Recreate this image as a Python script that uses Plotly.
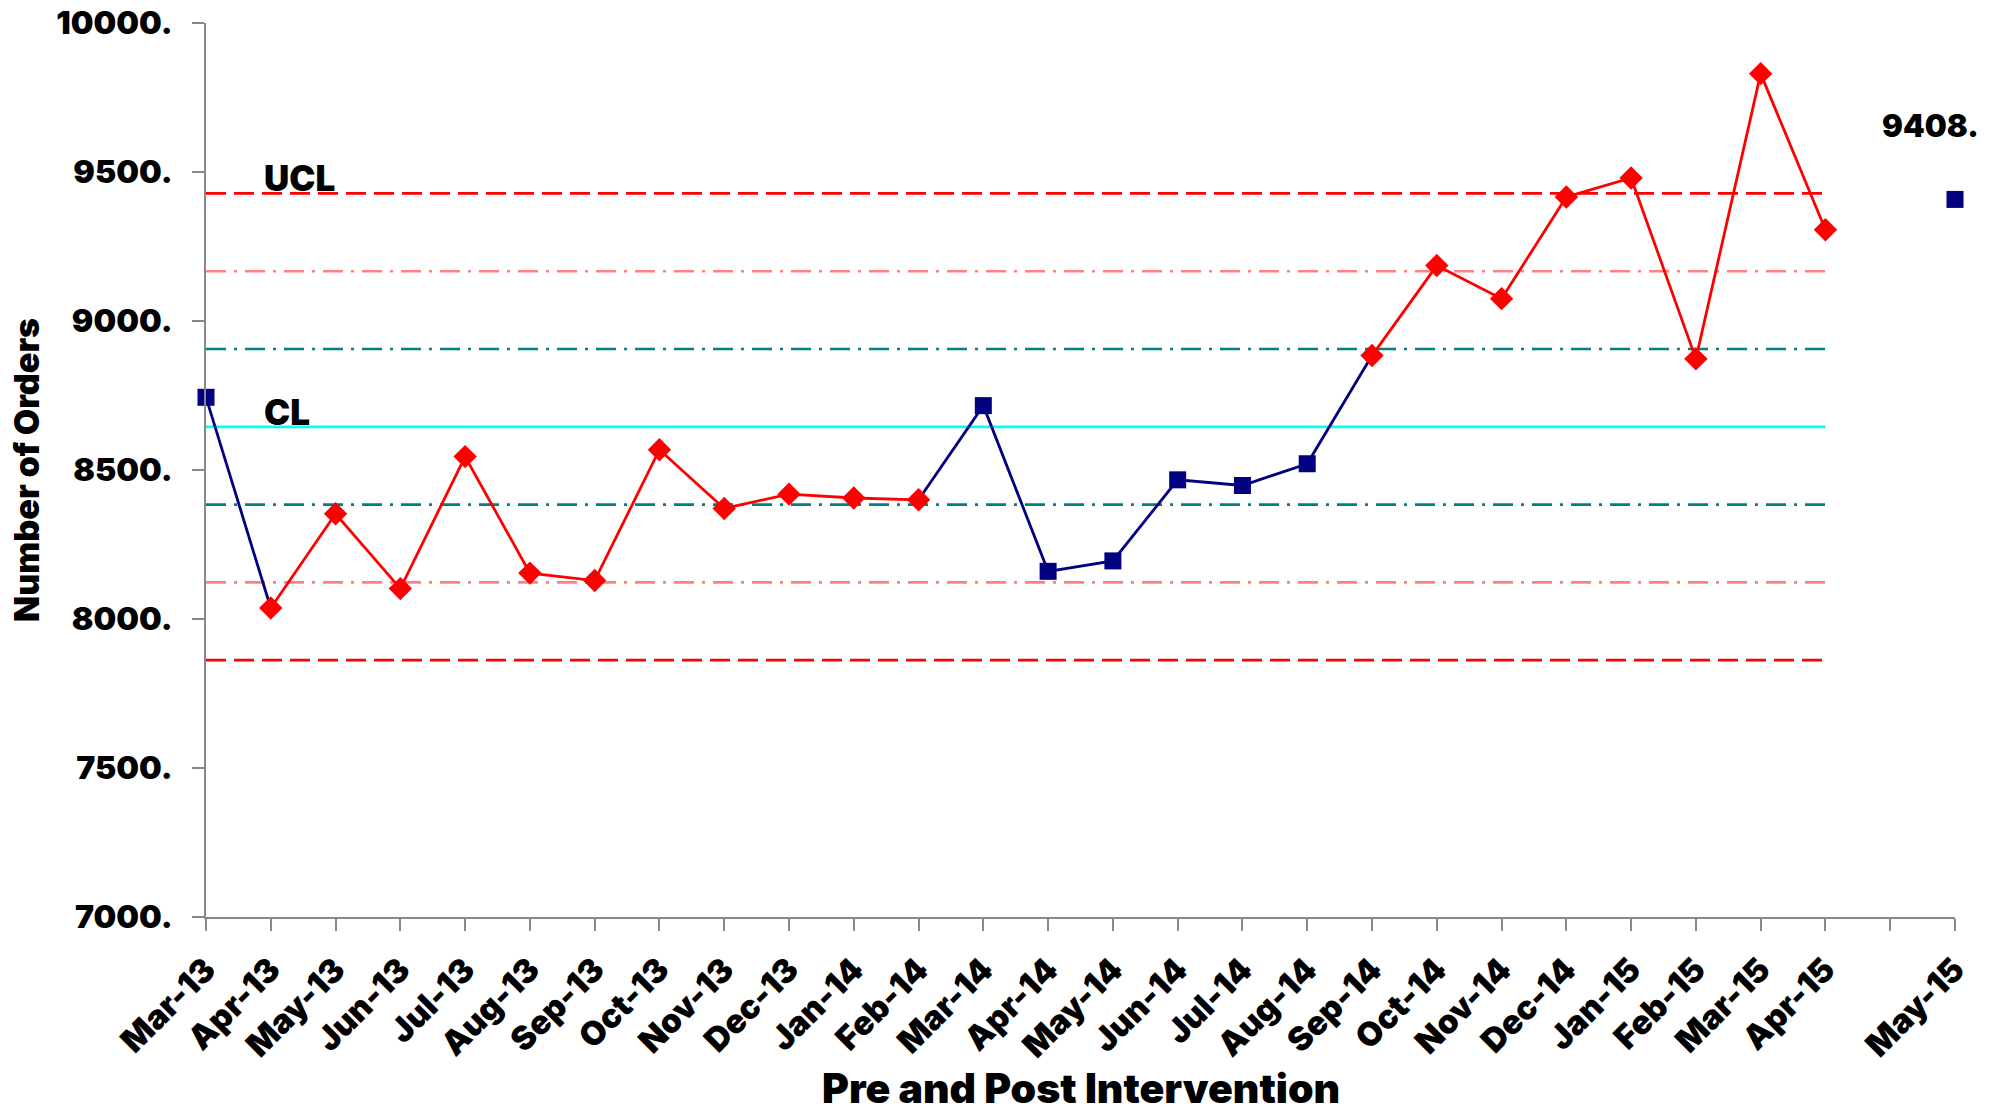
import plotly.graph_objects as go

# ---------------- data ----------------
months = ['Mar-13', 'Apr-13', 'May-13', 'Jun-13', 'Jul-13', 'Aug-13', 'Sep-13',
          'Oct-13', 'Nov-13', 'Dec-13', 'Jan-14', 'Feb-14', 'Mar-14', 'Apr-14',
          'May-14', 'Jun-14', 'Jul-14', 'Aug-14', 'Sep-14', 'Oct-14', 'Nov-14',
          'Dec-14', 'Jan-15', 'Feb-15', 'Mar-15', 'Apr-15', '', 'May-15']
orders = [8744, 8037, 8353, 8102, 8545, 8154, 8129,
          8568, 8371, 8419, 8406, 8400, 8716, 8160,
          8195, 8467, 8448, 8521, 8884, 9186, 9075,
          9416, 9480, 8873, 9830, 9306, None, 9408]
# 'N' = navy square point, 'R' = red diamond point, '' = empty slot
point_type = ['N', 'R', 'R', 'R', 'R', 'R', 'R',
              'R', 'R', 'R', 'R', 'R', 'N', 'N',
              'N', 'N', 'N', 'N', 'R', 'R', 'R',
              'R', 'R', 'R', 'R', 'R', '', 'N']
labelled_month = 'May-15'

cl_value = 8645
sigma = 261
limit_lines = [
    ('UCL', cl_value + 3 * sigma, '#FF0000', '20px,8px'),
    ('+2s', cl_value + 2 * sigma, '#FF8080', '20px,8px,3px,8px'),
    ('+1s', cl_value + 1 * sigma, '#008080', '20px,8px,3px,8px'),
    ('CL', cl_value, '#00FFFF', 'solid'),
    ('-1s', cl_value - 1 * sigma, '#008080', '20px,8px,3px,8px'),
    ('-2s', cl_value - 2 * sigma, '#FF8080', '20px,8px,3px,8px'),
    ('LCL', cl_value - 3 * sigma, '#FF0000', '20px,8px'),
]
line_labels = ['UCL', 'CL']
limit_end_month = 'Apr-15'

y_tickvals = [7000, 7500, 8000, 8500, 9000, 9500, 10000]
y_ticktext = ['7000.', '7500.', '8000.', '8500.', '9000.', '9500.', '10000.']

x_title = 'Pre and Post Intervention'
y_title = 'Number of Orders'

# ---------------- build ----------------
idx = list(range(len(months)))
NAVY = '#000080'
RED = '#FF0000'
FONT = 'Inter'
W = 900

fig = go.Figure()

end_i = months.index(limit_end_month)
limit_x = idx[:end_i + 1]
for name, val, col, dash in limit_lines:
    fig.add_trace(go.Scatter(x=limit_x, y=[val] * len(limit_x), mode='lines',
                             line=dict(color=col, width=2.7, dash=dash),
                             hoverinfo='skip', showlegend=False))

# red connecting line (between red points)
red_y = [v if t == 'R' else None for v, t in zip(orders, point_type)]
fig.add_trace(go.Scatter(x=idx, y=red_y, mode='lines',
                         line=dict(color=RED, width=2.8), connectgaps=False,
                         showlegend=False))

# navy connecting line (segments touching a navy point)
navy_line_y = []
for i, (v, t) in enumerate(zip(orders, point_type)):
    prev_n = i > 0 and point_type[i - 1] == 'N'
    next_n = i < len(orders) - 1 and point_type[i + 1] == 'N'
    navy_line_y.append(v if (t == 'N' or ((prev_n or next_n) and t != '')) else None)
fig.add_trace(go.Scatter(x=idx, y=navy_line_y, mode='lines',
                         line=dict(color=NAVY, width=2.8), connectgaps=False,
                         showlegend=False))

# markers
fig.add_trace(go.Scatter(x=[i for i, t in zip(idx, point_type) if t == 'R'],
                         y=[v for v, t in zip(orders, point_type) if t == 'R'],
                         mode='markers', cliponaxis=False,
                         marker=dict(symbol='diamond', size=18, color=RED),
                         showlegend=False))
fig.add_trace(go.Scatter(x=[i for i, t in zip(idx, point_type) if t == 'N'],
                         y=[v for v, t in zip(orders, point_type) if t == 'N'],
                         mode='markers', cliponaxis=False,
                         marker=dict(symbol='square', size=17, color=NAVY),
                         showlegend=False))

# labels for UCL / CL
for name, val, col, dash in limit_lines:
    if name in line_labels:
        fig.add_annotation(x=idx[1], y=val, text=name, showarrow=False,
                           xanchor='left', yanchor='bottom', xshift=-9, yshift=-8,
                           font=dict(family=FONT, size=35, color='black', weight=W))

# data label for last point
li = months.index(labelled_month)
fig.add_annotation(x=idx[li], y=orders[li], text=f'{orders[li]}.', showarrow=False,
                   xanchor='center', yanchor='middle', xshift=-25, yshift=74,
                   font=dict(family=FONT, size=31, color='black', weight=W))

# axis titles
fig.add_annotation(x=0.5, y=0, xref='paper', yref='paper', text=x_title,
                   showarrow=False, xanchor='center', yanchor='bottom', yshift=-198,
                   font=dict(family=FONT, size=41, color='black', weight=W))
fig.add_annotation(x=0, y=0.5, xref='paper', yref='paper', text=y_title,
                   showarrow=False, xanchor='center', yanchor='middle', xshift=-180,
                   textangle=-90,
                   font=dict(family=FONT, size=34, color='black', weight=W))

axis_common = dict(showgrid=False, zeroline=False, showline=True, automargin=False,
                   linecolor='#888888', linewidth=2, ticks='outside',
                   ticklen=12, tickwidth=2, tickcolor='#888888')

fig.update_xaxes(range=[0, len(months) - 1], tickvals=idx, ticktext=months,
                 tickangle=-45, ticklabelstandoff=6,
                 tickfont=dict(family=FONT, size=33, color='black', weight=W),
                 **axis_common)
fig.update_yaxes(range=[7000, 10000], tickvals=y_tickvals, ticktext=y_ticktext,
                 ticklabelstandoff=13,
                 tickfont=dict(family=FONT, size=32, color='black', weight=W),
                 **axis_common)

fig.update_layout(width=2000, height=1116, plot_bgcolor='white', paper_bgcolor='white',
                  margin=dict(l=206, r=45, t=23, b=199), showlegend=False)

fig.write_html('out.html')
